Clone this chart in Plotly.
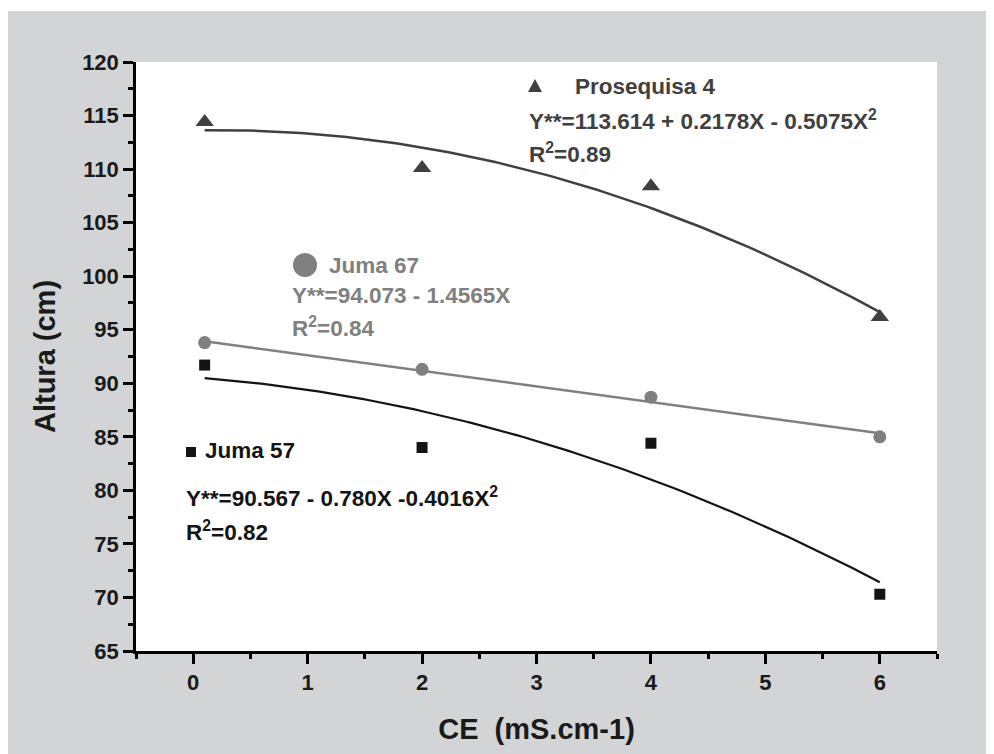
import plotly.graph_objects as go
import numpy as np

# ---------------- data ----------------
ce = [0.1, 2, 4, 6]
prosequisa4 = [114.4, 110.1, 108.4, 96.2]
juma67 = [93.8, 91.3, 88.7, 85.0]
juma57 = [91.7, 84.0, 84.4, 70.3]

# fitted regression coefficients (c0, c1, c2) as printed on the chart
coef_prosequisa4 = [113.614, 0.2178, -0.5075]
coef_juma67 = [94.073, -1.4565, 0.0]
coef_juma57 = [90.567, -0.780, -0.4016]

x_ticks = [0, 1, 2, 3, 4, 5, 6]
y_ticks = [65, 70, 75, 80, 85, 90, 95, 100, 105, 110, 115, 120]

# ---------------- styling ----------------
C_PRO = "#404040"
C_J67 = "#808080"
C_J57 = "#141414"
BG = "#d3d4d6"
FONT = "Liberation Sans, Arial, sans-serif"

OFF = 8                      # browser body margin
W, H = 994 - OFF, 754 - OFF
L, R, T, B = 136 - OFF, 57, 62 - OFF, 103
PW, PH = W - L - R, H - T - B


def px2paper(px, py):
    """page pixel -> paper coordinate"""
    fx, fy = px - OFF, py - OFF
    return (fx - L) / PW, (H - B - fy) / PH


xfit = np.linspace(ce[0], ce[-1], 120)


def poly(c, x):
    return c[0] + c[1] * x + c[2] * x ** 2


fig = go.Figure()

fig.add_trace(go.Scatter(x=xfit, y=poly(coef_prosequisa4, xfit), mode="lines",
                         line=dict(color=C_PRO, width=2.5), hoverinfo="skip"))
fig.add_trace(go.Scatter(x=xfit, y=poly(coef_juma67, xfit), mode="lines",
                         line=dict(color=C_J67, width=2.5), hoverinfo="skip"))
fig.add_trace(go.Scatter(x=xfit, y=poly(coef_juma57, xfit), mode="lines",
                         line=dict(color=C_J57, width=2.2), hoverinfo="skip"))

fig.add_trace(go.Scatter(x=ce, y=prosequisa4, mode="markers", name="Prosequisa 4",
                         marker=dict(symbol="triangle-up", size=16, color=C_PRO)))
fig.add_trace(go.Scatter(x=ce, y=juma67, mode="markers", name="Juma 67",
                         marker=dict(symbol="circle", size=13, color=C_J67)))
fig.add_trace(go.Scatter(x=ce, y=juma57, mode="markers", name="Juma 57",
                         marker=dict(symbol="square", size=11, color=C_J57)))

# ---------------- annotations (legend blocks) ----------------
ann = []


def add_text(txt, px, py, color, size=22.5):
    xp, yp = px2paper(px, py)
    ann.append(dict(text=txt, x=xp, y=yp, xref="paper", yref="paper",
                    xanchor="left", yanchor="middle", showarrow=False,
                    font=dict(family=FONT, size=size, color=color, weight="bold")))


add_text("Prosequisa 4", 573, 86, C_PRO)
add_text("Y**=113.614 + 0.2178X - 0.5075X<sup>2</sup>", 527, 120, C_PRO)
add_text("R<sup>2</sup>=0.89", 527, 153, C_PRO)

add_text("Juma 67", 327, 265, C_J67)
add_text("Y**=94.073 - 1.4565X", 290, 295, C_J67)
add_text("R<sup>2</sup>=0.84", 290, 327, C_J67)

add_text("Juma 57", 203, 450, C_J57)
add_text("Y**=90.567 - 0.780X -0.4016X<sup>2</sup>", 184, 497, C_J57)
add_text("R<sup>2</sup>=0.82", 184, 531, C_J57)

# ---------------- shapes ----------------
shapes = [
    # thin white strip above the grey panel
    dict(type="rect", xref="paper", yref="paper", layer="below",
         x0=px2paper(0, 0)[0], x1=px2paper(1000, 0)[0],
         y0=px2paper(0, 11)[1], y1=px2paper(0, 0)[1],
         fillcolor="white", line=dict(width=0)),
]

# legend symbols
ax, ay = px2paper(535, 86)
shapes.append(dict(type="path", xref="paper", yref="paper",
                   xsizemode="pixel", ysizemode="pixel", xanchor=ax, yanchor=ay,
                   path="M -7 -6 L 7 -6 L 0 7 Z", fillcolor=C_PRO, line=dict(width=0)))
cx, cy = px2paper(305, 265)
shapes.append(dict(type="circle", xref="paper", yref="paper",
                   xsizemode="pixel", ysizemode="pixel", xanchor=cx, yanchor=cy,
                   x0=-12, x1=12, y0=-12, y1=12, fillcolor=C_J67, line=dict(width=0)))
sx, sy = px2paper(191, 452)
shapes.append(dict(type="rect", xref="paper", yref="paper",
                   xsizemode="pixel", ysizemode="pixel", xanchor=sx, yanchor=sy,
                   x0=-5, x1=5, y0=-5, y1=5, fillcolor=C_J57, line=dict(width=0)))

axis_common = dict(
    showline=True, linecolor="black", linewidth=2.5, mirror=False,
    ticks="outside", ticklen=10, tickwidth=2.5, tickcolor="black",
    showgrid=False, zeroline=False,
    tickfont=dict(family=FONT, size=22, color="#1a1a1a", weight="bold"),
)

fig.update_layout(
    width=W, height=H,
    margin=dict(l=L, r=R, t=T, b=B, pad=0),
    paper_bgcolor=BG, plot_bgcolor="white",
    showlegend=False,
    annotations=ann, shapes=shapes,
    xaxis=dict(range=[-0.5, 6.5], tickmode="array", tickvals=x_ticks,
               ticktext=[str(v) for v in x_ticks],
               minor=dict(ticks="outside", ticklen=5, tickwidth=2.5, tickcolor="black",
                          tickmode="linear", tick0=-0.5, dtick=0.5),
               title=dict(text="CE  (mS.cm-1)", standoff=25,
                          font=dict(family=FONT, size=29, color="#1a1a1a", weight="bold")),
               **axis_common),
    yaxis=dict(range=[65, 120], tickmode="array", tickvals=y_ticks,
               ticktext=[str(v) for v in y_ticks],
               minor=dict(ticks="outside", ticklen=5, tickwidth=2.5, tickcolor="black",
                          tickmode="linear", tick0=65, dtick=2.5),
               title=dict(text="Altura (cm)", standoff=18,
                          font=dict(family=FONT, size=29, color="#1a1a1a", weight="bold")),
               **axis_common),
)

fig.write_html("out.html")
